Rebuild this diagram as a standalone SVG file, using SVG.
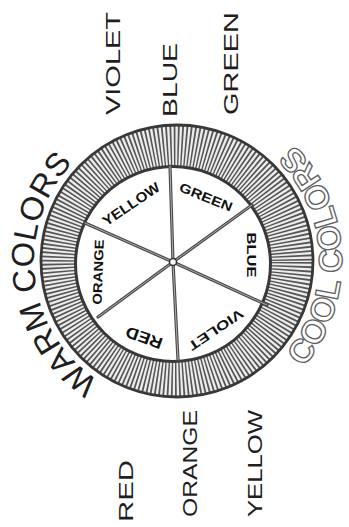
<svg xmlns="http://www.w3.org/2000/svg" width="349" height="527" viewBox="0 0 349 527">
<style>
.outer{font-family:"Liberation Sans",Arial,sans-serif;font-size:21px;fill:#1e1e1e;}
.seg{font-family:"Liberation Sans",Arial,sans-serif;font-weight:bold;fill:#111;text-anchor:middle;}
.warm{font-family:"Liberation Sans",Arial,sans-serif;font-size:32px;fill:#1e1e1e;}
.cool{font-family:"Liberation Sans",Arial,sans-serif;font-size:33px;font-weight:bold;fill:#fff;stroke:#5e5e5e;stroke-width:1.3;}
.spoke{stroke:#4a4a4a;stroke-width:3.2;stroke-linecap:round;}
.spokein{stroke:#fff;stroke-width:0.9;opacity:0.6;}
</style>
<defs>
<clipPath id="ringClip">
<path clip-rule="evenodd" d="M 41 261 a 136 136 0 1 0 272 0 a 136 136 0 1 0 -272 0 Z M 75.5 264 a 97.5 97.5 0 1 0 195 0 a 97.5 97.5 0 1 0 -195 0 Z"/>
</clipPath>
<path id="warmPath" d="M 99.1 380.9 A 143 143 0 0 1 75.9 159.9"/>
<path id="coolPath" d="M 303.4 367.1 A 165 165 0 0 0 289.5 140.3"/>
</defs>
<rect width="349" height="527" fill="#fff"/>

<g id="wheel">
<circle cx="177" cy="261" r="136" fill="#ececec"/>
<circle cx="175" cy="262" r="116.5" fill="none" stroke="#555" stroke-width="46" stroke-dasharray="1.6 2.1" clip-path="url(#ringClip)"/>
<circle cx="177" cy="261" r="136" fill="none" stroke="#383838" stroke-width="2.8"/>
<circle cx="173" cy="264" r="97.5" fill="#fff" stroke="#383838" stroke-width="3"/>
</g>

<g id="connectors">
<g class="spoke">
<line x1="173" y1="262" x2="170" y2="166"/>
<line x1="173" y1="262" x2="252" y2="205"/>
<line x1="173" y1="262" x2="267" y2="305"/>
<line x1="173" y1="262" x2="178" y2="360"/>
<line x1="173" y1="262" x2="98" y2="317"/>
<line x1="173" y1="262" x2="85" y2="223"/>
</g>
<g class="spokein">
<line x1="173" y1="262" x2="170" y2="166"/>
<line x1="173" y1="262" x2="252" y2="205"/>
<line x1="173" y1="262" x2="267" y2="305"/>
<line x1="173" y1="262" x2="178" y2="360"/>
<line x1="173" y1="262" x2="98" y2="317"/>
<line x1="173" y1="262" x2="85" y2="223"/>
</g>
<circle id="hub" cx="173" cy="262" r="3.5" fill="#fff" stroke="#333" stroke-width="1.5"/>
</g>

<g id="seg-yellow"><text class="seg" font-size="14" transform="translate(131,204) rotate(-34)" y="5" textLength="66" lengthAdjust="spacingAndGlyphs">YELLOW</text></g>
<g id="seg-green"><text class="seg" font-size="13" transform="translate(206,197) rotate(22)" y="4.7" textLength="56" lengthAdjust="spacingAndGlyphs">GREEN</text></g>
<g id="seg-blue"><text class="seg" font-size="13" transform="translate(252,255) rotate(90)" y="4.7" textLength="45" lengthAdjust="spacingAndGlyphs">BLUE</text></g>
<g id="seg-violet"><text class="seg" font-size="13" transform="translate(216,330) rotate(146)" y="4.7" textLength="63" lengthAdjust="spacingAndGlyphs">VIOLET</text></g>
<g id="seg-red"><text class="seg" font-size="16" transform="translate(144,338) rotate(200)" y="5.8" textLength="38" lengthAdjust="spacingAndGlyphs">RED</text></g>
<g id="seg-orange"><text class="seg" font-size="13" transform="translate(98,272) rotate(-88)" y="4.7" textLength="65" lengthAdjust="spacingAndGlyphs">ORANGE</text></g>

<g id="label-violet"><text class="outer" transform="translate(120,115) rotate(-90)" textLength="103" lengthAdjust="spacingAndGlyphs">VIOLET</text></g>
<g id="label-blue"><text class="outer" transform="translate(177,117) rotate(-90)" textLength="74" lengthAdjust="spacingAndGlyphs">BLUE</text></g>
<g id="label-green"><text class="outer" transform="translate(238,115) rotate(-90)" textLength="103" lengthAdjust="spacingAndGlyphs">GREEN</text></g>
<g id="label-red"><text class="outer" transform="translate(133,522) rotate(-90)" textLength="62" lengthAdjust="spacingAndGlyphs">RED</text></g>
<g id="label-orange"><text class="outer" transform="translate(197,517) rotate(-90)" textLength="107" lengthAdjust="spacingAndGlyphs">ORANGE</text></g>
<g id="label-yellow"><text class="outer" transform="translate(262,517) rotate(-90)" textLength="107" lengthAdjust="spacingAndGlyphs">YELLOW</text></g>

<g id="warm-colors"><text class="warm"><textPath href="#warmPath" textLength="250" lengthAdjust="spacingAndGlyphs">WARM COLORS</textPath></text></g>
<g id="cool-colors"><text class="cool"><textPath href="#coolPath" textLength="244" lengthAdjust="spacingAndGlyphs">COOL COLORS</textPath></text></g>
</svg>
